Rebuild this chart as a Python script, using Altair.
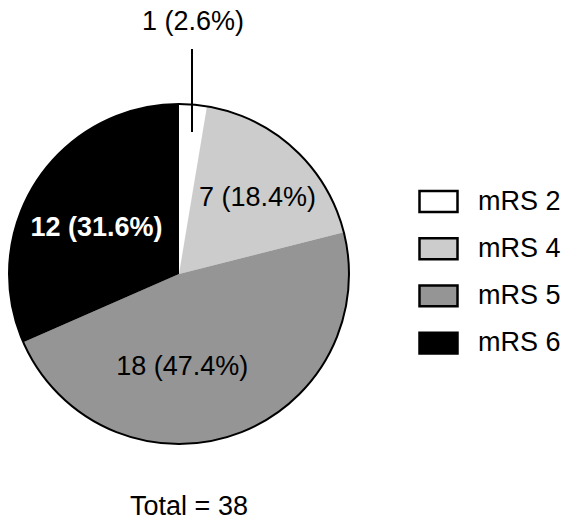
import math
import altair as alt
import pandas as pd

# ---- data ----
categories = ["mRS 2", "mRS 4", "mRS 5", "mRS 6"]
counts = [1, 7, 18, 12]
labels = ["1 (2.6%)", "7 (18.4%)", "18 (47.4%)", "12 (31.6%)"]
colors = ["#ffffff", "#cccccc", "#959595", "#000000"]
total_label = ["Total = 38"]

df = pd.DataFrame({"cat": categories, "n": counts, "label": labels,
                   "idx": list(range(len(categories)))})

# ---- layout / style ----
W, H = 556, 510
CX, CY, R = 171, 266, 170
FONT = "Liberation Sans"
FS = 27

base = alt.Chart(df)

theta = alt.Theta("n:Q", stack=True)
order = alt.Order("idx:Q")

arcs = base.mark_arc(radius=R).encode(
    theta=theta,
    order=order,
    color=alt.Color(
        "cat:N",
        scale=alt.Scale(domain=categories, range=colors),
        legend=alt.Legend(
            title=None, orient="none", legendX=410, legendY=173,
            symbolType="M-1,-0.55H1V0.55H-1Z", symbolSize=1444,
            symbolStrokeColor="black", symbolStrokeWidth=2.5,
            symbolOpacity=1, labelFont=FONT, labelFontSize=FS,
            labelColor="black", labelOffset=19, rowPadding=11.2,
        ),
    ),
    x=alt.value(CX), y=alt.value(CY),
)

outline = alt.Chart(pd.DataFrame({"o": [0]})).mark_arc(
    radius=R, theta=0, theta2=2 * math.pi, fillOpacity=0,
    stroke="black", strokeWidth=2,
).encode(x=alt.value(CX), y=alt.value(CY))


def slice_label(cat, radius, dx, dy, color, weight="normal"):
    return base.mark_text(
        radius=radius, dx=dx, dy=dy, font=FONT, fontSize=FS,
        fontWeight=weight, color=color, baseline="middle", align="center",
    ).encode(
        theta=theta,
        order=order,
        detail="cat:N",
        text=alt.condition(alt.datum.cat == cat, "label:N", alt.value("")),
        x=alt.value(CX), y=alt.value(CY),
    )


lab4 = slice_label("mRS 4", 110, 4, 5, "black")
lab5 = slice_label("mRS 5", 93, -27, 5, "black")
lab6 = slice_label("mRS 6", 95, -3, 6, "white", "bold")

top_df = df[df["cat"] == "mRS 2"]
leader = alt.Chart(top_df).mark_rule(color="black", strokeWidth=2).encode(
    x=alt.value(184), y=alt.value(41), y2=alt.value(124)
)
top_label = alt.Chart(top_df).mark_text(
    font=FONT, fontSize=FS, color="black", baseline="middle", align="center"
).encode(text="label:N", x=alt.value(185), y=alt.value(14))

total = alt.Chart(pd.DataFrame({"t": total_label})).mark_text(
    font=FONT, fontSize=FS, color="black", baseline="middle", align="center"
).encode(text="t:N", x=alt.value(181), y=alt.value(499))

chart = alt.layer(
    arcs, outline, lab4, lab5, lab6, leader, top_label, total
).properties(
    width=W, height=H, autosize=alt.AutoSizeParams(type="none"), padding=0
).configure_view(stroke=None)

chart.save("out.html", embed_options={"renderer": "svg", "actions": False})
